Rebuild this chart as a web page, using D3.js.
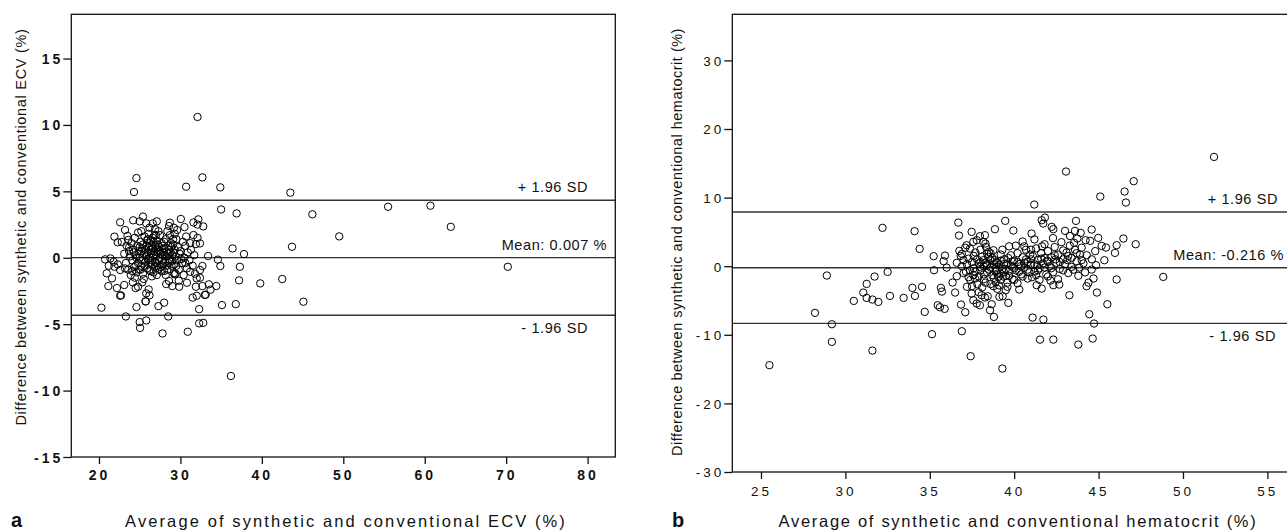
<!DOCTYPE html>
<html>
<head>
<meta charset="utf-8">
<script src="https://cdn.jsdelivr.net/npm/d3@7"></script>
<style>
  body { margin: 0; background: #fff; }
  svg { display: block; font-family: "Liberation Sans", Arial, sans-serif; }
  .tick line { stroke: #111; stroke-width: 1.3; }
  .tick text { fill: #111; }
</style>
</head>
<body>
<div id="chart"></div>
<script>
const width = 1287;
const height = 531;

// panel a : synthetic vs conventional ECV (average, difference)
const ecvPoints = [
  [32.1,10.6],[24.6,6.0],[24.3,4.95],[30.7,5.35],[32.7,6.05],[34.9,5.3],[43.5,4.9],
  [35.0,3.64],[36.9,3.34],[46.2,3.27],[55.5,3.84],[60.7,3.92],[49.5,1.61],[63.2,2.33],[70.2,-0.68],
  [36.4,0.7],[37.8,0.28],[43.7,0.83],[37.3,-0.68],[37.2,-1.7],[39.8,-1.93],[42.5,-1.6],[45.1,-3.31],
  [20.3,-3.76],[23.3,-4.42],[25.0,-4.84],[25.05,-5.28],[25.8,-4.72],[27.8,-5.7],[28.5,-4.42],[30.9,-5.57],
  [32.3,-4.94],[32.8,-4.9],[36.2,-8.9],[36.8,-3.49],[35.1,-3.56],[32.3,-3.87],[24.6,-3.71],[27.3,-3.64],
  [28.0,-3.38],[25.7,-3.29],[22.6,-2.86],[31.5,-3.0],[32.0,-2.86],[33.1,-2.78],[34.4,-2.13],[33.5,-2.0],
  [33.7,-2.4],[32.7,-2.13],[31.9,-2.18],
  [22.6,2.67],[24.2,2.82],[25.0,2.74],[25.4,3.1],[25.8,2.59],[26.6,2.59],[27.1,2.74],[26.9,2.16],[26.2,2.26],
  [28.7,2.64],[28.6,2.39],[29.2,2.26],[30.05,2.92],[30.5,2.31],[29.6,2.09],[31.6,2.66],[32.2,2.89],[32.1,2.5],
  [32.8,2.36],[31.6,1.71],[32.1,1.5],[32.4,1.08],[31.9,1.03],[23.2,2.09],[22.3,1.16],[21.9,1.59],[22.8,1.19],
  [23.5,1.64],[23.6,1.34],[23.7,0.78],
  [33.4,0.13],[34.6,-0.14],[34.9,-0.62],[32.7,-0.62],[32.4,-0.92],[32.0,-1.55],[32.4,-1.5],[31.2,-1.05],
  [20.75,-0.12],[21.4,-0.05],[20.95,-1.17],[21.15,-2.13],[21.6,-1.55],[21.9,-0.67],[22.6,-0.92],[23.1,-2.05],
  [22.7,-2.83],[22.2,-2.28],[21.8,-0.3],[22.3,-0.5],[21.2,-0.6],
  [24.15,-1.85],[24.5,-2.28],[24.8,-2.18],[25.3,-1.85],[26.1,-2.38],[25.8,-2.68],[26.2,-2.83],[25.75,-3.28],
  [28.25,-1.98],[28.6,-1.75],[29.0,-2.13],[29.2,-1.17],[29.3,-1.25],[29.85,-2.18],[29.8,-1.73],[30.8,-1.88],[33.0,-2.8],
  [23.1,0.3],[23.3,-0.4],[23.4,0.9],[23.6,-0.9],[23.8,0.1],[23.9,-1.3],[23.2,-0.8],[23.7,0.5],
  [24.0,1.1],[24.1,-0.2],[24.2,0.6],[24.3,-0.7],[24.4,1.5],[24.5,0.2],[24.6,-1.1],[24.7,0.9],[24.8,-0.4],
  [24.9,0.5],[24.4,-1.5],[24.8,1.9],[24.1,-1.0],
  [25.0,0.0],[25.1,1.2],[25.2,-0.6],[25.3,0.7],[25.4,-1.2],[25.5,0.3],[25.6,1.6],[25.7,-0.3],[25.8,0.9],
  [25.9,-0.8],[25.2,2.0],[25.5,-1.6],[25.8,0.1],[25.4,1.0],[25.1,-0.9],[25.9,1.3],
  [26.0,0.4],[26.1,-0.5],[26.2,1.1],[26.3,-1.0],[26.4,0.6],[26.5,-0.2],[26.6,1.5],[26.7,0.2],[26.8,-0.7],
  [26.9,0.9],[26.1,1.8],[26.3,0.0],[26.5,-1.4],[26.7,1.2],[26.9,-0.3],[26.4,0.3],[26.2,-0.9],[26.6,0.7],
  [26.8,0.5],[26.0,-0.1],
  [27.0,0.1],[27.1,1.3],[27.2,-0.6],[27.3,0.6],[27.4,-0.2],[27.5,1.7],[27.6,0.3],[27.7,-1.0],[27.8,0.9],
  [27.9,-0.4],[27.1,-1.3],[27.3,2.0],[27.5,0.0],[27.7,1.1],[27.9,0.4],[27.4,0.8],[27.6,-0.7],[27.2,0.4],
  [28.0,0.7],[28.1,-0.3],[28.2,1.4],[28.3,0.1],[28.4,-0.9],[28.5,0.9],[28.6,-0.1],[28.7,1.7],[28.8,0.4],
  [28.9,-0.6],[28.2,-1.3],[28.4,2.0],[28.6,0.6],[28.8,1.1],[28.3,0.4],[28.5,-0.4],
  [29.0,0.2],[29.1,1.0],[29.2,-0.5],[29.3,0.6],[29.5,1.4],[29.6,-0.2],[29.7,0.8],[29.8,-0.9],[29.9,0.3],
  [29.4,-1.2],[29.3,1.8],
  [30.0,0.5],[30.2,-0.4],[30.3,1.2],[30.5,0.0],[30.6,0.9],[30.8,-0.8],[30.9,0.4],[30.4,-1.3],[30.7,1.6],
  [31.1,-0.2],[31.3,0.6],[31.5,-0.6],[31.7,0.2],[31.2,1.1],[31.8,-1.2],
  [24.3,0.4],[24.6,0.0],[24.9,-0.9],[25.2,0.5],[25.3,-0.2],[25.6,-0.6],[25.6,0.6],[25.9,0.2],[26.1,0.8],
  [26.3,-0.4],[26.4,1.3],[26.6,-0.5],[26.7,-1.1],[26.8,1.7],[27.0,-0.4],[27.0,0.7],[27.2,1.0],[27.3,-0.9],
  [27.5,0.5],[27.8,0.2],[27.8,-0.6],[28.0,1.2],[28.1,0.2],[28.3,-0.6],[28.5,0.3],[28.7,-0.3],[28.9,0.8],
  [29.0,-0.2],[29.2,0.4],[29.4,0.1],[29.5,-0.6],[27.0,1.7],[26.0,1.4],[25.0,0.8],[24.5,-0.6],[26.5,0.9],
  [28.0,-1.0],[29.1,1.4],[30.1,-0.1],[30.6,-0.4]
];
const ecvLines = [4.33, 0.007, -4.33];
const ecvLineLabels = ["+ 1.96 SD", "Mean: 0.007 %", "- 1.96 SD"];
const ecvXTicks = [20, 30, 40, 50, 60, 70, 80];
const ecvYTicks = [-15, -10, -5, 0, 5, 10, 15];

// panel b : synthetic vs conventional hematocrit
const hctPoints = [
  [25.5,-14.43],[28.2,-6.8],[28.9,-1.36],[29.2,-8.46],[29.2,-11.03],[31.6,-12.3],[32.2,5.59],[30.5,-5.06],
  [31.06,-3.84],[31.26,-2.58],[31.73,-1.51],[32.5,-0.83],[31.26,-4.62],[31.6,-4.86],[31.95,-5.2],[32.64,-4.33],
  [33.45,-4.62],[33.97,-3.16],[34.12,-4.33],[34.54,-3.01],[34.7,-6.66],[35.13,-9.91],[34.1,5.1],[34.4,2.52],
  [35.23,1.46],[35.25,-0.59],[35.47,-5.69],[35.6,-5.98],[35.88,-6.22],[35.66,-3.16],[35.72,-3.7],[35.9,1.55],
  [35.82,0.73],[36.0,-0.2],[36.35,-2.38],[36.5,-3.84],[36.6,-1.46],[36.69,6.36],[36.73,4.47],[36.9,-9.48],
  [36.85,-5.59],[37.1,-6.71],[37.42,-13.12],[36.75,2.23],[36.83,1.5],[37.0,0.87],[36.9,0.0],
  [37.18,3.06],[37.38,2.57],[37.58,3.55],[37.48,5.0],[37.78,3.79],[37.97,4.37],[38.27,4.52],[38.17,3.55],[38.33,2.82],
  [37.2,-3.0],[37.48,-3.99],[37.58,-4.96],[37.78,-5.44],[37.97,-5.69],[38.07,-4.23],[38.27,-4.57],[38.43,-4.38],
  [38.67,-5.54],[38.57,-6.42],[38.8,-7.39],[38.86,5.39],
  [37.14,-0.83],[37.38,-0.59],[37.58,-1.31],[37.68,-1.8],[37.82,-2.63],[37.97,-0.1],[38.17,0.87],[38.37,0.14],
  [38.47,1.36],[38.61,1.84],[38.77,2.33],[38.86,0.87],[38.96,-0.59],[39.06,-1.56],[38.77,-2.92],[39.12,-4.47],[39.3,-14.92],
  [43.07,13.8],[47.08,12.39],[46.54,10.88],[46.62,9.28],[45.1,10.15],[41.19,8.99],[51.84,15.93],
  [39.47,6.61],[39.95,5.2],[41.03,4.76],[41.63,6.7],[41.82,7.09],[41.72,6.22],[42.22,5.73],[42.32,5.39],
  [43.01,5.15],[43.66,6.61],[43.6,5.15],[43.94,4.86],[43.74,4.03],[44.23,3.79],[44.59,5.34],[44.98,4.13],
  [45.18,2.96],[45.44,2.72],[46.47,4.03],[46.07,3.06],[47.2,3.2],[45.97,1.94],[45.34,0.87],[44.85,0.14],[44.59,-0.49],
  [48.83,-1.56],[46.07,-1.94],
  [44.29,-2.92],[44.9,-3.84],[45.52,-5.54],[44.45,-7.0],[44.73,-8.36],[44.65,-10.55],[43.8,-11.42],[42.32,-10.7],
  [41.53,-10.7],[41.09,-7.49],[41.73,-7.78],[43.27,-4.23],[41.63,-3.26],[41.33,-2.77],[42.67,-2.68],[42.32,-2.77],
  [39.65,-5.35],[39.32,-4.38],
  [36.6,0.5],[36.9,1.8],[37.0,-1.0],[37.2,0.3],[37.3,1.1],[37.4,-2.0],[37.5,0.6],[37.6,-0.3],[37.7,2.0],
  [37.8,1.0],[37.9,-1.5],[37.1,2.7],[37.5,-2.9],[37.7,-0.8],[37.9,0.4],[37.3,-1.6],[37.6,1.5],
  [38.0,-0.6],[38.1,1.4],[38.2,-1.9],[38.3,0.5],[38.4,-0.9],[38.5,2.1],[38.6,-0.2],[38.7,-1.3],[38.8,0.3],
  [38.9,-2.3],[38.1,-3.1],[38.3,3.3],[38.5,-0.5],[38.7,1.2],[38.9,-0.8],[38.2,0.0],[38.6,-2.6],[38.4,1.8],
  [38.8,-1.7],[38.95,0.6],
  [39.0,-1.1],[39.1,0.2],[39.2,-2.0],[39.3,-0.4],[39.4,1.0],[39.5,-1.4],[39.6,0.4],[39.7,-0.7],[39.8,1.6],
  [39.9,-0.1],[39.1,-2.8],[39.3,2.4],[39.5,-3.5],[39.7,2.9],[39.9,-1.9],[39.2,0.8],[39.4,-0.9],[39.6,-2.4],
  [39.8,0.1],[39.35,-1.5],[39.65,1.2],
  [40.0,0.8],[40.1,-0.6],[40.2,1.9],[40.3,0.3],[40.4,-1.2],[40.5,1.3],[40.6,-0.2],[40.7,2.4],[40.8,0.6],
  [40.9,-0.9],[40.2,-2.5],[40.5,3.6],[40.8,-1.8],[40.1,3.0],[40.4,0.0],[40.7,1.0],[40.95,1.7],[40.3,-3.4],
  [41.0,0.2],[41.1,1.5],[41.2,-0.8],[41.3,2.6],[41.4,0.9],[41.5,-0.3],[41.6,1.9],[41.7,0.4],[41.8,3.2],
  [41.9,-1.2],[41.2,3.9],[41.5,-2.0],[41.8,1.2],[41.05,-1.6],[41.35,0.1],[41.65,2.9],[41.95,0.8],
  [42.0,2.2],[42.1,0.0],[42.2,1.3],[42.3,-0.9],[42.4,2.8],[42.5,0.5],[42.6,1.7],[42.7,-0.4],[42.8,3.5],
  [42.9,1.0],[42.3,4.1],[42.6,-1.9],[42.9,2.3],[42.15,-2.1],[42.45,1.0],
  [43.0,0.3],[43.1,2.0],[43.2,-1.0],[43.3,3.0],[43.4,1.2],[43.5,-0.5],[43.6,2.4],[43.7,0.7],[43.8,-1.4],
  [43.9,1.7],[43.3,4.4],[43.15,0.9],[43.55,3.4],[43.85,-0.2],
  [44.0,2.7],[44.1,0.4],[44.2,-0.9],[44.3,1.6],[44.5,3.7],[44.6,1.0],[44.7,-1.8],[44.4,-2.4],[44.8,2.2],
  [38.0,0.6],[38.2,-1.2],[38.4,0.3],[38.6,0.9],[38.9,-0.3],[39.0,0.5],[39.2,-1.1],[39.4,0.3],[39.5,-0.4],
  [39.7,-1.4],[39.9,0.7],[40.0,-0.3],[40.2,0.6],[40.3,-0.8],[40.6,0.5],[40.8,-0.5],[41.0,1.0],[41.2,0.3],
  [41.4,-0.6],[41.6,1.1],[41.8,-0.2],[42.0,0.7],[42.2,-0.3],[42.4,1.6],[42.7,0.6],[42.9,-0.6],[43.2,1.5],
  [43.4,-0.1],[43.7,1.9],[44.0,0.9],[39.6,-3.0],[40.0,-2.0],[38.3,-2.4],[37.9,-3.8],[39.0,-3.3],[40.5,-1.5],
  [41.3,-1.3],[42.0,-1.5],[40.6,2.9],[41.0,2.4],[39.2,1.7],[38.0,2.4]
];
const hctLines = [7.9, -0.216, -8.33];
const hctLineLabels = ["+ 1.96 SD", "Mean: -0.216 %", "- 1.96 SD"];
const hctXTicks = [25, 30, 35, 40, 45, 50, 55];
const hctYTicks = [-30, -20, -10, 0, 10, 20, 30];

const svg = d3.select("#chart").append("svg")
    .attr("width", width)
    .attr("height", height);

// draws one Bland-Altman panel
function drawPanel(cfg) {
  const x = d3.scaleLinear().domain(cfg.xDomain).range([cfg.left, cfg.right]);
  const y = d3.scaleLinear().domain(cfg.yDomain).range([cfg.bottom, cfg.top]);
  const g = svg.append("g");

  // reference lines
  g.selectAll("line.ref")
    .data(cfg.lines)
    .join("line")
      .attr("class", "ref")
      .attr("x1", cfg.left).attr("x2", cfg.right)
      .attr("y1", d => y(d)).attr("y2", d => y(d))
      .attr("stroke", "#333")
      .attr("stroke-width", 1.4);

  g.selectAll("text.ref")
    .data(cfg.lines)
    .join("text")
      .attr("class", "ref")
      .attr("x", (d, i) => cfg.labelX[i])
      .attr("y", (d, i) => y(d) + cfg.labelDy[i])
      .attr("text-anchor", "end")
      .attr("font-size", 14.5)
      .attr("letter-spacing", 0.6)
      .attr("fill", "#111")
      .text((d, i) => cfg.lineLabels[i]);

  g.append("g")
    .selectAll("circle")
    .data(cfg.points)
    .join("circle")
      .attr("cx", d => x(d[0]))
      .attr("cy", d => y(d[1]))
      .attr("r", 3.7)
      .attr("fill", "none")
      .attr("stroke", "#000")
      .attr("stroke-width", 1);

  // frame
  g.append("rect")
    .attr("x", cfg.left).attr("y", cfg.top)
    .attr("width", cfg.right - cfg.left)
    .attr("height", cfg.bottom - cfg.top)
    .attr("fill", "none")
    .attr("stroke", "#111")
    .attr("stroke-width", 1.3);

  const fmt = d => (d < 0 ? "-" + Math.abs(d) : String(d));

  const yAxis = g.append("g")
      .attr("transform", `translate(${cfg.left},0)`)
      .call(d3.axisLeft(y).tickValues(cfg.yTicks).tickFormat(fmt).tickSize(8).tickSizeOuter(0));
  yAxis.select(".domain").remove();
  yAxis.selectAll("text")
      .attr("x", -8)
      .attr("dy", "0.36em")
      .attr("font-size", cfg.tickSize)
      .attr("font-weight", cfg.tickWeight)
      .attr("letter-spacing", 3)
      .attr("font-family", "Liberation Sans, Arial, sans-serif");

  const xAxis = g.append("g")
      .attr("transform", `translate(0,${cfg.bottom})`)
      .call(d3.axisBottom(x).tickValues(cfg.xTicks).tickFormat(fmt).tickSize(7).tickSizeOuter(0));
  xAxis.select(".domain").remove();
  xAxis.selectAll("text")
      .attr("y", cfg.xLabelY)
      .attr("dy", 0)
      .attr("font-size", cfg.tickSize)
      .attr("font-weight", cfg.tickWeight)
      .attr("letter-spacing", 3)
      .attr("font-family", "Liberation Sans, Arial, sans-serif");

  // axis titles
  g.append("text")
    .attr("transform", `translate(${cfg.yTitleX},${cfg.yTitleY}) rotate(-90)`)
    .attr("text-anchor", "middle")
    .attr("font-size", 14.5)
    .attr("letter-spacing", cfg.yTitleSpacing)
    .attr("fill", "#111")
    .text(cfg.yTitle);

  g.append("text")
    .attr("x", cfg.xTitleX).attr("y", 527)
    .attr("text-anchor", "middle")
    .attr("font-size", 16.5)
    .attr("letter-spacing", cfg.xTitleSpacing)
    .attr("fill", "#111")
    .text(cfg.xTitle);

  g.append("text")
    .attr("x", cfg.tagX).attr("y", 527)
    .attr("font-size", 20)
    .attr("font-weight", "bold")
    .attr("fill", "#111")
    .text(cfg.tag);
}

drawPanel({
  points: ecvPoints, lines: ecvLines, lineLabels: ecvLineLabels,
  xTicks: ecvXTicks, yTicks: ecvYTicks,
  xDomain: [16.6, 83.4], yDomain: [-15, 18.33],
  left: 71.3, right: 615.3, top: 14.3, bottom: 457,
  labelX: [588, 607, 588], labelDy: [-8, -8, 18],
  tickSize: 14, tickWeight: "bold", xLabelY: 23,
  yTitle: "Difference between synthetic and conventional ECV (%)", yTitleX: 26, yTitleY: 227, yTitleSpacing: 0.7,
  xTitle: "Average of synthetic and conventional ECV (%)", xTitleX: 346, xTitleSpacing: 2.1,
  tag: "a", tagX: 11
});

drawPanel({
  points: hctPoints, lines: hctLines, lineLabels: hctLineLabels,
  xTicks: hctXTicks, yTicks: hctYTicks,
  xDomain: [23.3, 56.34], yDomain: [-30, 36.72],
  left: 732.3, right: 1290, top: 14.3, bottom: 472,
  labelX: [1278, 1284, 1276], labelDy: [-8, -8, 18],
  tickSize: 13.5, tickWeight: "normal", xLabelY: 24,
  yTitle: "Difference between synthetic and conventional hematocrit (%)", yTitleX: 682, yTitleY: 242, yTitleSpacing: 0.5,
  xTitle: "Average of synthetic and conventional hematocrit (%)", xTitleX: 1018, xTitleSpacing: 1.7,
  tag: "b", tagX: 672
});
</script>
</body>
</html>
